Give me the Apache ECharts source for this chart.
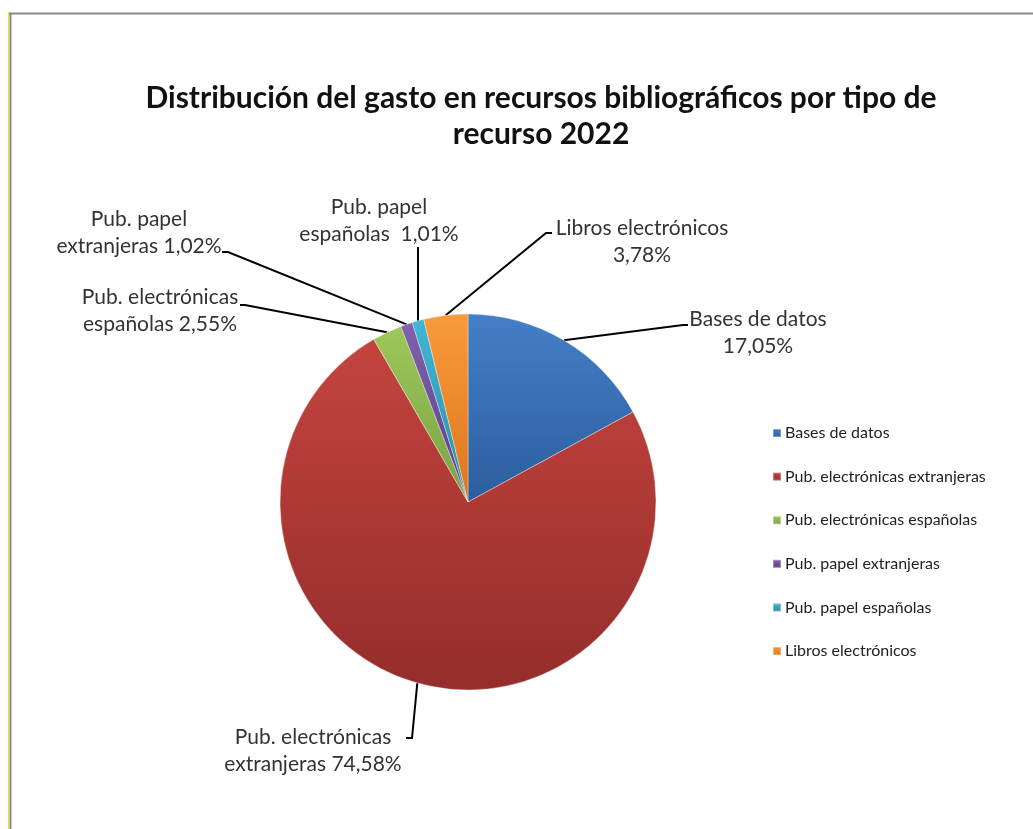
<!DOCTYPE html>
<html>
<head>
<meta charset="utf-8">
<script src="https://cdn.jsdelivr.net/npm/echarts@6/dist/echarts.min.js"></script>
<style>
html,body{margin:0;padding:0;background:#fff;}
#chart{width:1033px;height:829px;}
</style>
</head>
<body>
<div id="chart"></div>
<script>
// ---- data ----
const categories = ['Bases de datos', 'Pub. electrónicas extranjeras', 'Pub. electrónicas españolas', 'Pub. papel extranjeras', 'Pub. papel españolas', 'Libros electrónicos'];
const values = [17.05, 74.58, 2.55, 1.02, 1.01, 3.78];
const labelLine1 = ['Bases de datos', 'Pub. electrónicas', 'Pub. electrónicas', 'Pub. papel', 'Pub. papel', 'Libros electrónicos'];
const labelLine2 = ['', 'extranjeras ', 'españolas ', 'extranjeras ', 'españolas  ', ''];
const titleText = 'Distribución del gasto en recursos bibliográficos por tipo de\nrecurso 2022';

// ---- styling / layout ----
const colorStops = [
  ['#457FC6', '#2C5D9E'],
  ['#C4443F', '#942D2B'],
  ['#9DC95B', '#79A042'],
  ['#8262AC', '#5B3C83'],
  ['#42B6D5', '#2A8BA6'],
  ['#F99A3B', '#DD761C']
];
// label anchor (centre of text block), elbow and end of leader line, in px
const labelLayoutPx = [
  {x: 758, y: 333, elbow: [683, 325], end: [688, 325]},
  {x: 313, y: 751, elbow: [412, 738], end: [406, 738]},
  {x: 160, y: 311, elbow: [245, 305], end: [240, 305]},
  {x: 139, y: 233, elbow: [228, 252], end: [222, 252]},
  {x: 379, y: 221, elbow: [418, 247], end: [418, 247]},
  {x: 642, y: 242, elbow: [546, 233], end: [552, 233]}
];

const font = 'Lato, "Open Sans", sans-serif';

const data = categories.map((c, i) => ({
  name: c,
  value: values[i],
  itemStyle: {
    color: {
      type: 'linear', x: 0, y: 0, x2: 0, y2: 1,
      colorStops: [{offset: 0, color: colorStops[i][0]}, {offset: 1, color: colorStops[i][1]}]
    }
  }
}));

const chart = echarts.init(document.getElementById('chart'), null, {renderer: 'canvas'});
chart.setOption({
  backgroundColor: '#fff',
  animation: false,
  title: {
    text: titleText,
    left: 536,
    top: 75,
    textAlign: 'center',
    textStyle: {fontFamily: font, fontWeight: 'bold', fontSize: 30, lineHeight: 36, color: '#111'}
  },
  legend: {
    orient: 'vertical',
    left: 772,
    top: 425,
    padding: 0,
    itemWidth: 8,
    itemHeight: 8,
    itemGap: 27.6,
    icon: 'rect',
    textStyle: {fontFamily: font, fontSize: 16, color: '#222', padding: [0, 0, 0, -1]},
    data: categories
  },
  graphic: [
    {type: 'line', shape: {x1: 8.5, y1: 12, x2: 8.5, y2: 829}, style: {stroke: '#f2e600', lineWidth: 1}},
    {type: 'line', shape: {x1: 10.5, y1: 13, x2: 10.5, y2: 829}, style: {stroke: '#8a8a8a', lineWidth: 2}},
    {type: 'line', shape: {x1: 9, y1: 13.5, x2: 1033, y2: 13.5}, style: {stroke: '#8a8a8a', lineWidth: 2}}
  ],
  series: [{
    type: 'pie',
    center: [468, 502],
    radius: 188,
    startAngle: 90,
    clockwise: true,
    avoidLabelOverlap: false,
    data: data,
    itemStyle: {borderColor: 'rgba(255,255,255,0.35)', borderWidth: 1},
    label: {
      show: true,
      position: 'outside',
      fontFamily: font,
      fontSize: 21,
      lineHeight: 27,
      color: '#333',
      align: 'center',
      formatter: function (p) {
        const pct = p.value.toFixed(2).replace('.', ',') + '%';
        return labelLine1[p.dataIndex] + '\n' + labelLine2[p.dataIndex] + pct;
      }
    },
    labelLine: {show: true, lineStyle: {color: '#000', width: 2}},
    labelLayout: function (params) {
      const L = labelLayoutPx[params.dataIndex];
      const p0 = params.labelLinePoints ? params.labelLinePoints[0] : L.elbow;
      return {
        x: L.x,
        y: L.y,
        align: 'center',
        verticalAlign: 'middle',
        labelLinePoints: [p0, L.elbow, L.end]
      };
    },
    emphasis: {disabled: true}
  }]
});
</script>
</body>
</html>
